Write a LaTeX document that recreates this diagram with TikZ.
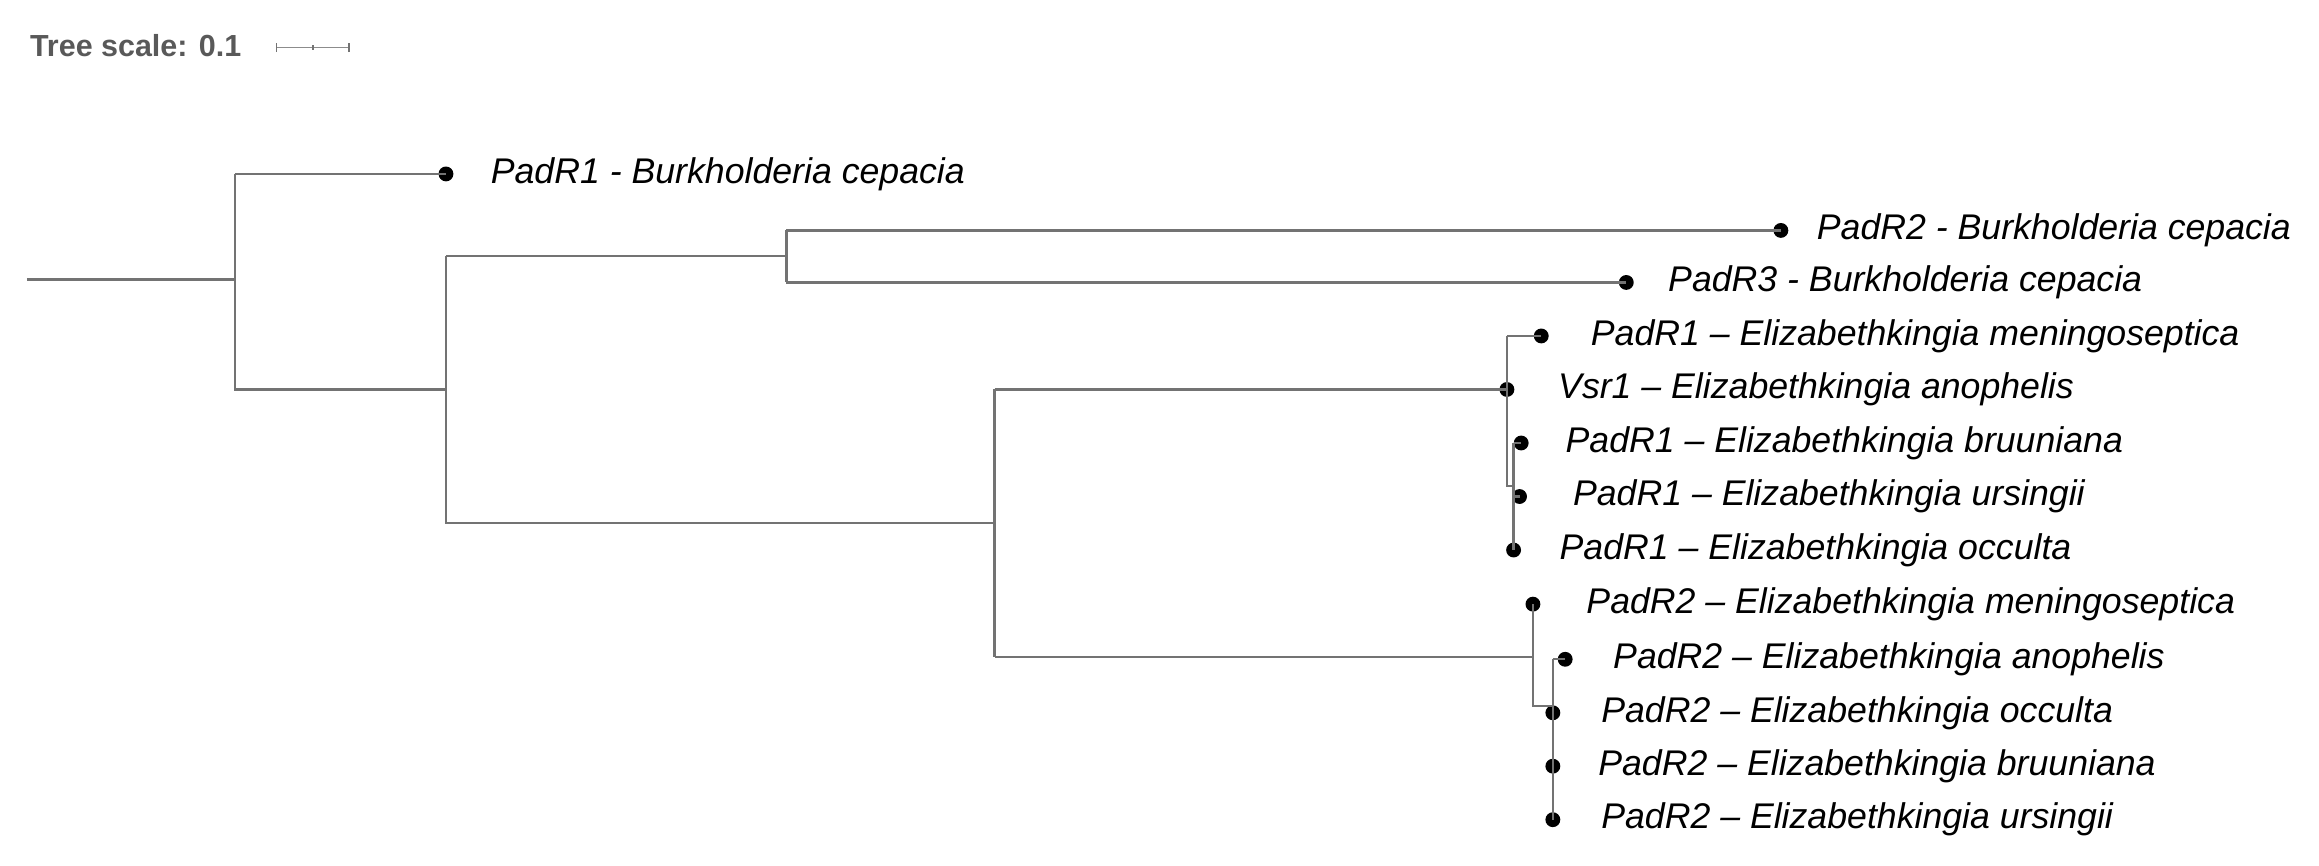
\documentclass[tikz,border=0pt]{standalone}
\usepackage{fontspec}
\setmainfont{Liberation Sans}
\begin{document}
\begin{tikzpicture}[x=1pt,y=-1pt,
  br/.style={draw=black!55,line width=1.6pt},
  leafdot/.style={circle,fill=black,inner sep=0pt,minimum size=10pt},
  lab/.style={anchor=west,inner sep=0pt,font=\fontsize{24}{28}\selectfont\itshape},
  inner/.style={coordinate}]
\useasboundingbox (0,0) rectangle (1560,582);
% scale bar
\node[anchor=west,inner sep=0pt,text=black!65,font=\fontsize{20.5}{24}\selectfont\bfseries] (ts) at (20,31) {Tree scale: 0.1};
\coordinate (s1) at (186,32); \coordinate (s2) at (235,32); \coordinate (sm) at (210.5,32);
\draw[draw=black!45,line width=1.2pt] (s1) -- (s2);
\draw[draw=black!55,line width=1.2pt] ([yshift=-3]s1) -- ([yshift=3]s1) ([yshift=-3]s2) -- ([yshift=3]s2) ([yshift=-1.5]sm) -- ([yshift=1.5]sm);
% internal nodes
\coordinate (r0) at (18,188);
\coordinate (A) at (158,188);
\coordinate (B) at (300,262);
\coordinate (C) at (529,172);
\coordinate (D) at (669,352);
\coordinate (E) at (1013.7,262);
\coordinate (E2) at (1018.2,327);
\coordinate (F) at (1031.2,442);
\coordinate (F2) at (1044.6,475);
% leaves
\node[leafdot] (l1) at (300,117) {};
\node[leafdot] (l2) at (1198,155) {};
\node[leafdot] (l3) at (1094,190) {};
\node[leafdot] (l4) at (1036.8,226) {};
\node[leafdot] (l5) at (1013.7,262) {};
\node[leafdot] (l6) at (1023.3,298) {};
\node[leafdot] (l7) at (1022.2,334) {};
\node[leafdot] (l8) at (1018.2,370) {};
\node[leafdot] (l9) at (1031.2,406.4) {};
\node[leafdot] (l10) at (1052.9,443.5) {};
\node[leafdot] (l11) at (1044.6,479.5) {};
\node[leafdot] (l12) at (1044.6,515.4) {};
\node[leafdot] (l13) at (1044.6,551.4) {};
% branches
\draw[br] (r0) -- (A);
\draw[br] (A |- l1) -- (l1.center);
\draw[br] (A |- l1) -- (A |- B) -- (B);
\draw[br] (B |- C) -- (B |- D) -- (D);
\draw[br] (B |- C) -- (C);
\draw[br] (C |- l2) -- (C |- l3);
\draw[br] (C |- l2) -- (l2.center);
\draw[br] (C |- l3) -- (l3.center);
\draw[br] (D |- E) -- (D |- F);
\draw[br] (D |- E) -- (E);
\draw[br] (D |- F) -- (F);
\draw[br] (E |- l4) -- (l4.center);
\draw[br] (E |- l4) -- (E |- E2) -- (E2);
\draw[br] (E2 |- l6) -- (l8.center);
\draw[br] (E2 |- l6) -- (l6.center);
\draw[br] (E2 |- l7) -- (l7.center);
\draw[br] (F |- l9) -- (F |- F2) -- (F2);
\draw[br] (F2 |- l10) -- (l13.center);
\draw[br] (F2 |- l10) -- (l10.center);
% labels
\node[lab] (t1) at (330,117) {PadR1 - Burkholderia cepacia};
\node[lab] (t2) at (1222,155) {PadR2 - Burkholderia cepacia};
\node[lab] (t3) at (1122,190) {PadR3 - Burkholderia cepacia};
\node[lab] (t4) at (1070,226) {PadR1 – Elizabethkingia meningoseptica};
\node[lab] (t5) at (1048,262) {Vsr1 – Elizabethkingia anophelis};
\node[lab] (t6) at (1053,298) {PadR1 – Elizabethkingia bruuniana};
\node[lab] (t7) at (1058,334) {PadR1 – Elizabethkingia ursingii};
\node[lab] (t8) at (1049,370) {PadR1 – Elizabethkingia occulta};
\node[lab] (t9) at (1067,406.4) {PadR2 – Elizabethkingia meningoseptica};
\node[lab] (t10) at (1085,443.5) {PadR2 – Elizabethkingia anophelis};
\node[lab] (t11) at (1077,479.5) {PadR2 – Elizabethkingia occulta};
\node[lab] (t12) at (1075,515.4) {PadR2 – Elizabethkingia bruuniana};
\node[lab] (t13) at (1077,551.4) {PadR2 – Elizabethkingia ursingii};
\end{tikzpicture}
\end{document}
